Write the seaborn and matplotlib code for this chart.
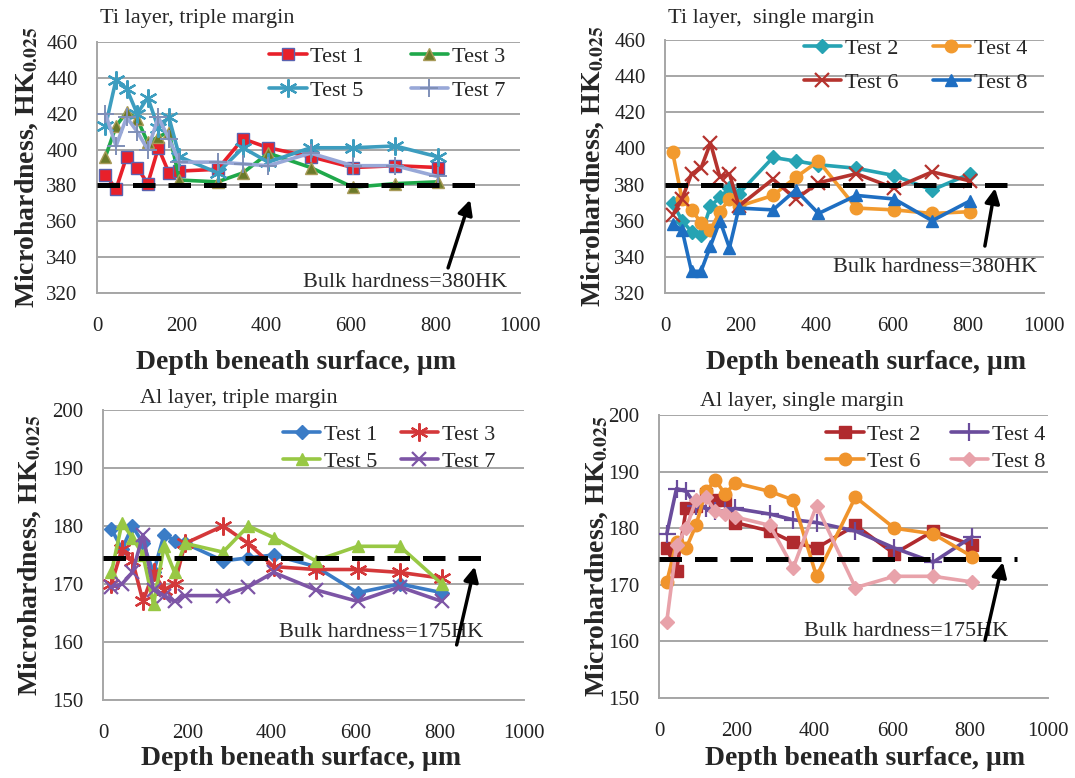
import matplotlib
matplotlib.use("Agg")
import matplotlib.pyplot as plt
import seaborn as sns
import pandas as pd

# ---------------- data ----------------
depth = [20, 45, 70, 95, 120, 145, 170, 195, 285, 345, 405, 505, 605, 705, 805]

# Ti layer, triple margin
ti_tri_test1 = [386, 378, 396, 390, 381, 401, 387, 388, 389, 406, 401, 396, 390, 391, 390]
ti_tri_test3 = [396, 413, 421, 417, 404, 407, 410, 383, 382, 387, 398, 390, 379, 381, 382]
ti_tri_test5 = [413, 439, 434, 420, 429, 412, 418, 396, 387, 401, 393, 401, 401, 402, 396]
ti_tri_test7 = [420, 402, 418, 410, 400, 418, 406, 393, 393, 392, 391, 398, 391, 391, 385]

# Ti layer, single margin
ti_sgl_test2 = [370, 360, 354, 352, 368, 373, 378, 375, 395, 393, 391, 389, 385, 377, 386]
ti_sgl_test4 = [398, 372, 366, 359, 355, 365, 372, 368, 374, 384, 393, 367, 366, 364, 365]
ti_sgl_test6 = [363, 372, 386, 389, 403, 384, 386, 368, 383, 372, 381, 386, 378, 387, 382]
ti_sgl_test8 = [358, 355, 332, 332, 346, 360, 345, 367, 366, 377, 364, 374, 372, 360, 371]

# Al layer, triple margin
al_tri_test1 = [179.5, 176, 180, 177, 172, 178.5, 177.5, 177, 174, 174.5, 175, 173, 168.5, 170, 168.5]
al_tri_test3 = [170, 176, 174, 167, 172, 169, 170, 177, 180, 177, 173, 172.5, 172.5, 172, 171]
al_tri_test5 = [172, 180.5, 178, 175, 166.5, 176.5, 172, 177, 175.5, 180, 178, 174, 176.5, 176.5, 170]
al_tri_test7 = [169.5, 170, 172, 178.5, 169, 168, 167, 168, 168, 169.5, 172, 169, 167, 169.5, 167]

# Al layer, single margin
al_sgl_test2 = [176.5, 172.5, 183.5, 184, 186, 185, 185, 181, 179.5, 177.5, 176.5, 180.5, 175.5, 179.5, 177]
al_sgl_test4 = [179, 187, 186.5, 184, 183.5, 183, 183, 183.5, 182.5, 181.5, 181, 179.5, 176.5, 174, 178.5]
al_sgl_test6 = [170.5, 177.5, 176.5, 180.5, 186.5, 188.5, 186, 188, 186.5, 185, 171.5, 185.5, 180, 179, 175]
al_sgl_test8 = [163.5, 177, 180, 185, 185.5, 183, 182.5, 182, 180.5, 173, 184, 169.5, 171.5, 171.5, 170.5]

bulk_ti = 380
bulk_al = 175
bulk_al_level = 174.5
bulk_line_end = 920

titles = ["Ti layer, triple margin", "Ti layer,  single margin",
          "Al layer, triple margin", "Al layer, single margin"]
x_ticks = [0, 200, 400, 600, 800, 1000]
ti_yticks = [320, 340, 360, 380, 400, 420, 440, 460]
al_yticks = [150, 160, 170, 180, 190, 200]

# ---------------- style ----------------
sns.set_style("white")
plt.rcParams['font.family'] = ['Liberation Serif', 'DejaVu Serif']
plt.rcParams['mathtext.fontset'] = 'stix'

ASTER = (6, 2, 0)

panels = [
    dict(series=[("Test 1", ti_tri_test1, '#E8202A', 's', '#E8202A', '#5A62B0', 9, 1.0),
                 ("Test 3", ti_tri_test3, '#1FA84A', '^', '#6B7A2A', '#A89A58', 9, 1.0),
                 ("Test 5", ti_tri_test5, '#3D9DBF', ASTER, 'none', '#3D9DBF', 13, 1.6),
                 ("Test 7", ti_tri_test7, '#98A8D8', '+', 'none', '#7F8FB8', 13, 1.4)],
         bulk=bulk_ti, bulk_level=bulk_ti, ylim=(320, 460), yticks=ti_yticks,
         rect=[97, 42, 520, 293], title_xy=(100, 19),
         text_xy=(728, 326), arrow=((830, 334), (882, 372)),
         ylab_x=40, xlab_top=350, leg=dict(anchor=(505, 46), ls=0.62, cs=2.1)),
    dict(series=[("Test 2", ti_sgl_test2, '#26A3B3', 'D', '#26A3B3', '#26A3B3', 7, 1.0),
                 ("Test 4", ti_sgl_test4, '#F29A2E', 'o', '#F29A2E', '#F29A2E', 9, 1.0),
                 ("Test 6", ti_sgl_test6, '#B5332E', 'x', 'none', '#B5332E', 10, 1.6),
                 ("Test 8", ti_sgl_test8, '#1E6EC2', '^', '#1E6EC2', '#1E6EC2', 9, 1.0)],
         bulk=bulk_ti, bulk_level=bulk_ti, ylim=(320, 460), yticks=ti_yticks,
         rect=[665, 40, 1044, 293], title_xy=(668, 19),
         text_xy=(712, 334), arrow=((844, 346), (871, 378)),
         ylab_x=606, xlab_top=350, leg=dict(anchor=(1027, 38), ls=0.62, cs=1.55)),
    dict(series=[("Test 1", al_tri_test1, '#3B7CC6', 'D', '#3B7CC6', '#3B7CC6', 7, 1.0),
                 ("Test 3", al_tri_test3, '#D4383A', ASTER, 'none', '#D4383A', 13, 1.6),
                 ("Test 5", al_tri_test5, '#98C844', '^', '#98C844', '#98C844', 9, 1.0),
                 ("Test 7", al_tri_test7, '#7D55A6', 'x', 'none', '#7D55A6', 10, 1.6)],
         bulk=bulk_al, bulk_level=bulk_al_level, ylim=(150, 200), yticks=al_yticks,
         rect=[103, 410, 524, 700], title_xy=(140, 399),
         text_xy=(661, 161.7), arrow=((840, 159.5), (883, 173)),
         ylab_x=43, xlab_top=746, leg=dict(anchor=(495, 424), ls=0.3, cs=1.05)),
    dict(series=[("Test 2", al_sgl_test2, '#B02A2E', 's', '#B02A2E', '#B02A2E', 9, 1.0),
                 ("Test 4", al_sgl_test4, '#6A4C9C', '+', 'none', '#6A4C9C', 13, 1.6),
                 ("Test 6", al_sgl_test6, '#F0942C', 'o', '#F0942C', '#F0942C', 9, 1.0),
                 ("Test 8", al_sgl_test8, '#E8A2AA', 'D', '#E8A2AA', '#E8A2AA', 7, 1.0)],
         bulk=bulk_al, bulk_level=bulk_al_level, ylim=(150, 200), yticks=al_yticks,
         rect=[659, 415, 1048, 698], title_xy=(700, 401),
         text_xy=(635, 161.7), arrow=((838, 160.2), (884, 174)),
         ylab_x=610, xlab_top=746, leg=dict(anchor=(1045, 424), ls=0.3, cs=1.35)),
]

W, H = 1075, 778
fig = plt.figure(figsize=(W / 100, H / 100), dpi=100)

for i, p in enumerate(panels):
    l, t, r, b = p['rect']
    ax = fig.add_axes([l / W, (H - b) / H, (r - l) / W, (b - t) / H])
    for (lab, vals, col, mk, mfc, mec, ms, mew) in p['series']:
        df = pd.DataFrame({'depth': depth, 'hk': vals})
        sns.lineplot(data=df, x='depth', y='hk', ax=ax, color=col, lw=2.6,
                     marker=mk, markersize=ms, markerfacecolor=mfc,
                     markeredgecolor=mec, markeredgewidth=mew,
                     estimator=None, label=lab, zorder=3)
    ax.hlines(p['bulk_level'], 0, bulk_line_end, colors='black', lw=3.6,
              linestyles=(0, (4.5, 2.6)), zorder=5)
    ax.set_xlim(0, 1000)
    ax.set_ylim(*p['ylim'])
    ax.set_xticks(x_ticks)
    ax.set_yticks(p['yticks'])
    ax.yaxis.grid(True, color='#A6A6A6', lw=1.4)
    ax.xaxis.grid(False)
    ax.set_axisbelow(True)
    for s in ['top', 'right']:
        ax.spines[s].set_visible(False)
    for s in ['left', 'bottom']:
        ax.spines[s].set_color('#A6A6A6')
        ax.spines[s].set_linewidth(1.4)
    ax.tick_params(axis='both', length=0, labelsize=15, colors='#222222')
    ax.tick_params(axis='y', pad=14)
    ax.tick_params(axis='x', pad=17)

    ax.set_ylabel(r'Microhardness, HK$_{\mathbf{0.025}}$', fontsize=20, fontweight='bold')
    ax.yaxis.set_label_coords((p['ylab_x'] - l) / (r - l), 0.5)
    ax.set_xlabel('Depth beneath surface, µm', fontsize=20, fontweight='bold')
    ax.xaxis.set_label_coords(0.47 if i % 2 == 0 else 0.53,
                              -(p['xlab_top'] - b) / (b - t))

    hs, ls = ax.get_legend_handles_labels()
    order = [0, 2, 1, 3]
    ax_x, ax_y = p['leg']['anchor']
    ax.legend([hs[k] for k in order], [ls[k] for k in order], ncol=2, loc='upper right',
              bbox_to_anchor=((ax_x - l) / (r - l), (b - ax_y) / (b - t)),
              frameon=False, fontsize=16, borderpad=0, borderaxespad=0,
              handlelength=1.7, handletextpad=0.15, columnspacing=p['leg']['cs'],
              labelspacing=p['leg']['ls'])

    ax.text(p['text_xy'][0], p['text_xy'][1], f"Bulk hardness={p['bulk']}HK",
            fontsize=16, ha='center', va='center', zorder=6)
    ax.annotate('', xy=p['arrow'][1], xytext=p['arrow'][0],
                arrowprops=dict(arrowstyle='-|>', color='black', lw=2.5,
                                mutation_scale=22, shrinkA=0, shrinkB=0), zorder=6)

    fig.text(p['title_xy'][0] / W, 1 - p['title_xy'][1] / H, titles[i],
             fontsize=16, ha='left', va='center')

fig.savefig('out.png', dpi=100)
